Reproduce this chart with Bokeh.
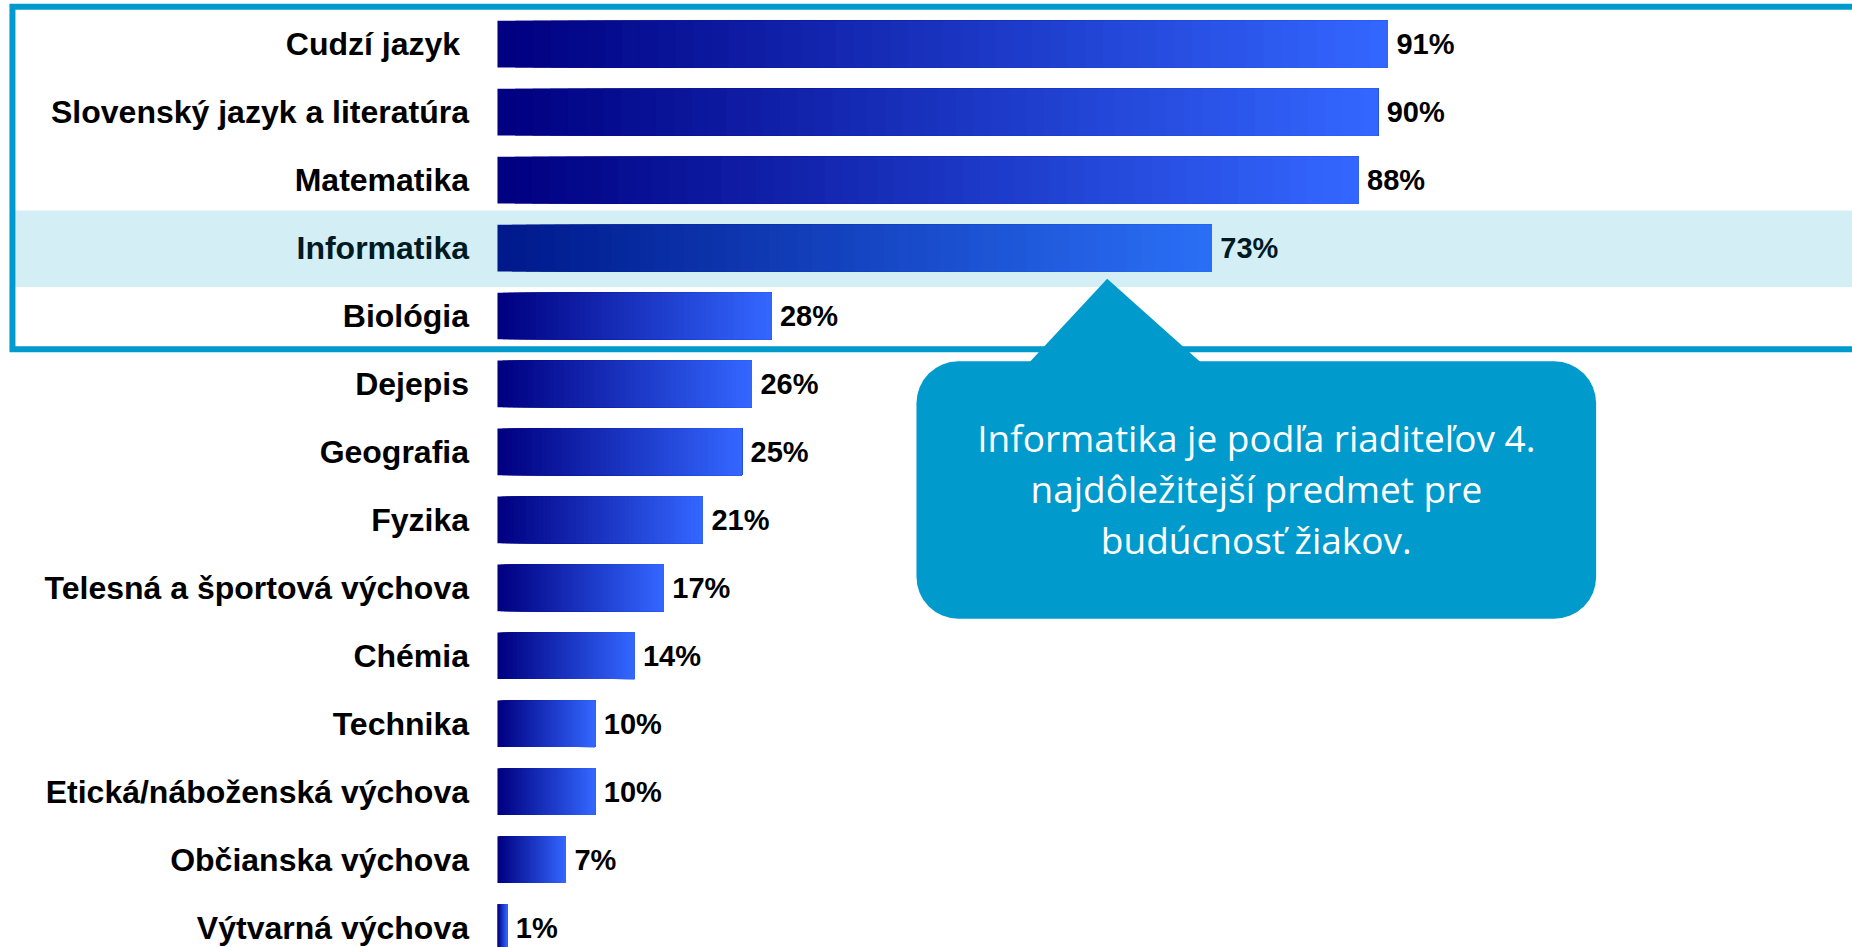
from bokeh.plotting import figure
from bokeh.models import Range1d, BoxAnnotation, PolyAnnotation, ColumnDataSource
from bokeh.core.properties import value
from bokeh.embed import file_html
from bokeh.resources import INLINE

# ---------------- data ----------------
categories = [
    "Cudzí jazyk ",
    "Slovenský jazyk a literatúra",
    "Matematika",
    "Informatika",
    "Biológia",
    "Dejepis",
    "Geografia",
    "Fyzika",
    "Telesná a športová výchova",
    "Chémia",
    "Technika",
    "Etická/náboženská výchova",
    "Občianska výchova",
    "Výtvarná výchova",
]
values = [91, 90, 88, 73, 28, 26, 25, 21, 17, 14, 10, 10, 7, 1]
value_labels = [f"{v}%" for v in values]
highlight = "Informatika"
boxed_count = 5
callout_lines = [
    "Informatika je podľa riaditeľov 4.",
    "najdôležitejší predmet pre",
    "budúcnosť žiakov.",
]

# ---------------- styling ----------------
GRAD_START = (0, 0, 128)
GRAD_END = (51, 102, 255)
N_STEPS = 50
ACCENT = "#009ACD"
LABEL_FONT = value("Liberation Sans")

ypos = [-i for i in range(len(categories))]

p = figure(
    width=1852, height=947,
    x_range=Range1d(-50.79, 138.48),
    y_range=Range1d(-13.293, 0.6431),
    output_backend="svg", toolbar_location=None,
    x_axis_location=None, y_axis_location=None,
    min_border=0, outline_line_color=None,
    background_fill_color="white", border_fill_color="white",
)
p.grid.visible = False

# gradient bars: overlapping slices, each reaching the bar end
gy, gl, gr, gc = [], [], [], []
for y, v in zip(ypos, values):
    for k in range(N_STEPS):
        t = k / (N_STEPS - 1)
        c = tuple(int(round(a + (b - a) * t)) for a, b in zip(GRAD_START, GRAD_END))
        gy.append(y)
        gl.append(v * k / N_STEPS)
        gr.append(v)
        gc.append("#%02x%02x%02x" % c)
p.hbar(y="y", left="l", right="r", height=0.687, fill_color="c", line_color=None,
       source=ColumnDataSource(dict(y=gy, l=gl, r=gr, c=gc)))

# category labels
p.text(x=[-2.91] * len(categories), y=ypos, text=categories,
       text_align="right", text_baseline="middle",
       text_font=LABEL_FONT, text_font_style="bold", text_font_size="32px",
       text_color="black")

# value labels
p.text(x=[v + 0.87 for v in values], y=ypos, text=value_labels,
       text_align="left", text_baseline="middle",
       text_font=LABEL_FONT, text_font_style="bold", text_font_size="29px",
       text_color="black")

# translucent highlight over the Informatika row
hi = categories.index(highlight)
p.quad(left=[-49.28], right=[150], top=[-hi + 0.551], bottom=[-hi - 0.572],
       fill_color="#0099CC", fill_alpha=0.17, line_color=None)

# frame around top rows (open on the right)
top_y = 0.552
bot_y = -(boxed_count - 1) - 0.489
p.line(x=[150, -49.57, -49.57, 150], y=[top_y, top_y, bot_y, bot_y],
       line_color=ACCENT, line_width=6, line_join="miter")

# callout pointer and box
p.add_layout(PolyAnnotation(xs=[52.63, 62.31, 73.95], ys=[-4.949, -3.452, -4.949],
                            fill_color=ACCENT, fill_alpha=1.0, line_color=None))
p.add_layout(BoxAnnotation(left=42.82, right=112.28, top=-4.665, bottom=-8.456,
                           fill_color=ACCENT, fill_alpha=1.0, line_color=None,
                           border_radius=42))

cx = (42.82 + 112.28) / 2
p.text(x=[cx] * 3, y=[-5.788, -6.538, -7.289], text=callout_lines,
       text_align="center", text_baseline="alphabetic",
       text_font=value("Open Sans"), text_font_size="37px", text_color="white",
       level="overlay")

open("out.html", "w").write(file_html(p, INLINE))
